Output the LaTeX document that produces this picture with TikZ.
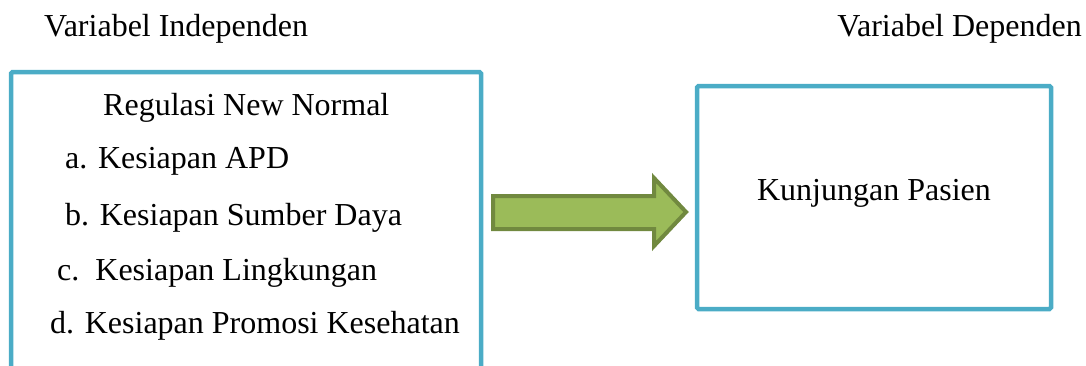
\documentclass[tikz,border=0pt]{standalone}
\usepackage{fontspec}
\setmainfont{Liberation Serif}
\definecolor{boxblue}{HTML}{4BACC6}
\definecolor{arrowfill}{HTML}{9BBB59}
\definecolor{arrowline}{HTML}{71893F}
\tikzset{
  varbox/.style={draw=boxblue, line width=4.5pt, rounded corners=1.5pt},
  txt/.style={inner sep=0pt, anchor=base west},
  blockarrow/.style={fill=arrowfill, draw=arrowline, line width=4pt, line join=miter}
}
\begin{document}
\begin{tikzpicture}[x=1pt, y=-1pt, font=\rmfamily\fontsize{32}{38}\selectfont]
      \useasboundingbox (0,0) rectangle (1086,365);
      \clip (0,0) rectangle (1086,365);
      \draw
        (44,36) node[txt] (indep){Variabel Independen}
        (1082,36) node[txt, anchor=base east] (dep){Variabel Dependen};
      \draw[varbox] (11,380) -- (11,72) -- (481,72) -- (481,380);
      \draw
        (103,115) node[txt] (reg){Regulasi New Normal}
        (65,168) node[txt] (a){a. Kesiapan APD}
        (65,225) node[txt] (b){b. Kesiapan Sumber Daya}
        (57,280) node[txt] (c){c.\ \ Kesiapan Lingkungan}
        (50,333) node[txt] (d){d. Kesiapan Promosi Kesehatan};
      \node[varbox, minimum width=354pt, minimum height=223pt] (kunj) at (874,197.5) {};
      \node[inner sep=0pt, anchor=base] (kunjtext) at ([yshift=-2.5pt]kunj.center) {Kunjungan Pasien};
      \draw[blockarrow] (493,196) -- (654,196) -- (654,178) -- (686,212) -- (654,246) -- (654,229) -- (493,229) -- cycle;
    \end{tikzpicture}
\end{document}
